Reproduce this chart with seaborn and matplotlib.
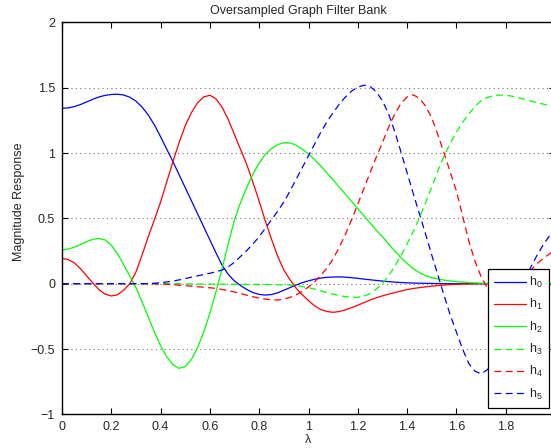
import numpy as np
import pandas as pd
import matplotlib
matplotlib.use("Agg")
import matplotlib.pyplot as plt
import seaborn as sns

# ---- data ----
lam = [0.000, 0.025, 0.050, 0.075, 0.100, 0.125, 0.150, 0.175,
       0.200, 0.225, 0.250, 0.275, 0.300, 0.325, 0.350, 0.375,
       0.400, 0.425, 0.450, 0.475, 0.500, 0.525, 0.550, 0.575,
       0.600, 0.625, 0.650, 0.675, 0.700, 0.725, 0.750, 0.775,
       0.800, 0.825, 0.850, 0.875, 0.900, 0.925, 0.950, 0.975,
       1.000, 1.025, 1.050, 1.075, 1.100, 1.125, 1.150, 1.175,
       1.200, 1.225, 1.250, 1.275, 1.300, 1.325, 1.350, 1.375,
       1.400, 1.425, 1.450, 1.475, 1.500, 1.525, 1.550, 1.575,
       1.600, 1.625, 1.650, 1.675, 1.700, 1.725, 1.750, 1.775,
       1.800, 1.825, 1.850, 1.875, 1.900, 1.925, 1.950, 1.975,
       2.000]

h0 = [1.343, 1.346, 1.356, 1.372, 1.392, 1.412, 1.430, 1.442,
      1.449, 1.451, 1.445, 1.428, 1.398, 1.352, 1.292, 1.215,
      1.125, 1.030, 0.935, 0.835, 0.735, 0.635, 0.535, 0.435,
      0.335, 0.235, 0.140, 0.070, 0.020, -0.015, -0.045, -0.068,
      -0.082, -0.087, -0.083, -0.070, -0.050, -0.030, -0.010, 0.008,
      0.022, 0.034, 0.043, 0.049, 0.051, 0.052, 0.050, 0.046,
      0.041, 0.035, 0.030, 0.025, 0.020, 0.016, 0.012, 0.009,
      0.007, 0.005, 0.004, 0.003, 0.002, 0.001, 0.0, 0.0,
      0.0, 0.0, 0.0, 0.0, 0.0, 0.0, 0.0, 0.0,
      0.0, 0.0, 0.0, 0.0, 0.0, 0.0, 0.0, 0.0,
      0.0]

h1 = [0.194, 0.185, 0.160, 0.115, 0.060, 0.005, -0.045, -0.080,
      -0.094, -0.085, -0.050, 0.000, 0.090, 0.220, 0.360, 0.490,
      0.625, 0.780, 0.935, 1.080, 1.210, 1.310, 1.385, 1.430,
      1.443, 1.415, 1.350, 1.255, 1.140, 1.025, 0.910, 0.775,
      0.630, 0.480, 0.340, 0.210, 0.105, 0.030, -0.035, -0.085,
      -0.130, -0.170, -0.198, -0.213, -0.219, -0.213, -0.200, -0.183,
      -0.165, -0.145, -0.125, -0.108, -0.093, -0.080, -0.068, -0.056,
      -0.045, -0.037, -0.030, -0.024, -0.019, -0.014, -0.010, -0.007,
      -0.005, -0.003, -0.002, -0.001, 0.0, 0.0, 0.0, 0.0,
      0.0, 0.0, 0.0, 0.0, 0.0, 0.0, 0.0, 0.0,
      0.0]

h2 = [0.258, 0.265, 0.280, 0.300, 0.322, 0.340, 0.347, 0.335,
      0.295, 0.230, 0.145, 0.060, -0.030, -0.140, -0.255, -0.370,
      -0.475, -0.560, -0.620, -0.648, -0.635, -0.580, -0.490, -0.370,
      -0.225, -0.060, 0.120, 0.310, 0.490, 0.625, 0.740, 0.840,
      0.925, 0.990, 1.035, 1.065, 1.080, 1.078, 1.060, 1.030,
      0.995, 0.950, 0.900, 0.848, 0.795, 0.740, 0.685, 0.630,
      0.575, 0.520, 0.465, 0.410, 0.360, 0.305, 0.250, 0.200,
      0.155, 0.115, 0.085, 0.062, 0.047, 0.036, 0.028, 0.021,
      0.016, 0.012, 0.009, 0.006, 0.004, 0.003, 0.002, 0.001,
      0.0, 0.0, 0.0, 0.0, 0.0, 0.0, 0.0, 0.0,
      0.0]

h3 = [0.0, 0.0, 0.0, 0.0, 0.0, 0.0, 0.0, 0.0,
      0.0, 0.0, 0.0, 0.0, 0.0, 0.0, 0.0, 0.0,
      0.0, 0.0, 0.0, 0.0, -0.002, -0.002, -0.003, -0.003,
      -0.004, -0.004, -0.004, -0.004, -0.005, -0.005, -0.005, -0.005,
      -0.006, -0.006, -0.007, -0.007, -0.008, -0.010, -0.015, -0.022,
      -0.030, -0.042, -0.055, -0.068, -0.080, -0.091, -0.099, -0.104,
      -0.104, -0.095, -0.075, -0.042, 0.000, 0.060, 0.135, 0.215,
      0.305, 0.400, 0.505, 0.620, 0.740, 0.865, 0.980, 1.075,
      1.160, 1.235, 1.300, 1.355, 1.400, 1.425, 1.440, 1.445,
      1.443, 1.436, 1.425, 1.412, 1.400, 1.388, 1.376, 1.365,
      1.355]

h4 = [0.0, 0.0, 0.0, 0.0, 0.0, 0.0, 0.0, 0.0,
      0.0, 0.0, 0.0, 0.0, 0.0, 0.0, 0.0, -0.002,
      -0.003, -0.005, -0.008, -0.011, -0.015, -0.019, -0.023, -0.027,
      -0.031, -0.036, -0.044, -0.053, -0.064, -0.076, -0.088, -0.100,
      -0.110, -0.118, -0.123, -0.125, -0.118, -0.105, -0.085, -0.058,
      -0.025, 0.015, 0.065, 0.120, 0.190, 0.280, 0.380, 0.490,
      0.610, 0.730, 0.850, 0.970, 1.080, 1.200, 1.300, 1.380,
      1.430, 1.446, 1.420, 1.360, 1.270, 1.140, 1.000, 0.855,
      0.710, 0.520, 0.330, 0.175, 0.055, -0.030, -0.050, -0.045,
      -0.030, -0.005, 0.025, 0.060, 0.100, 0.150, 0.190, 0.225,
      0.255]

h5 = [0.0, 0.0, 0.0, 0.0, 0.0, 0.0, 0.0, 0.0,
      0.0, 0.0, 0.0, 0.0, 0.0, 0.0, 0.0, 0.004,
      0.008, 0.013, 0.020, 0.029, 0.039, 0.050, 0.060, 0.070,
      0.080, 0.091, 0.105, 0.130, 0.165, 0.210, 0.255, 0.305,
      0.360, 0.425, 0.490, 0.555, 0.625, 0.710, 0.800, 0.890,
      0.980, 1.070, 1.160, 1.240, 1.310, 1.375, 1.430, 1.475,
      1.505, 1.520, 1.510, 1.470, 1.400, 1.300, 1.165, 1.010,
      0.850, 0.690, 0.535, 0.380, 0.220, 0.065, -0.090, -0.240,
      -0.370, -0.500, -0.610, -0.670, -0.690, -0.660, -0.600, -0.500,
      -0.390, -0.260, -0.120, 0.000, 0.120, 0.210, 0.290, 0.360,
      0.430]

labels = [r"h$_0$", r"h$_1$", r"h$_2$", r"h$_3$", r"h$_4$", r"h$_5$"]
series = [h0, h1, h2, h3, h4, h5]
colors = ["#0000ff", "#ff0000", "#00ff00", "#00ff00", "#ff0000", "#0000ff"]
dashed = [False, False, False, True, True, True]

xticks = [0, 0.2, 0.4, 0.6, 0.8, 1.0, 1.2, 1.4, 1.6, 1.8]
xticklabels = ["0", "0.2", "0.4", "0.6", "0.8", "1", "1.2", "1.4", "1.6", "1.8"]
yticks = [-1, -0.5, 0, 0.5, 1, 1.5, 2]
yticklabels = ["\u22121", "\u22120.5", "0", "0.5", "1", "1.5", "2"]

# ---- style ----
sns.set_theme(style="white")
plt.rcParams["font.family"] = ["Liberation Sans", "DejaVu Sans"]
plt.rcParams["mathtext.fontset"] = "custom"
plt.rcParams["mathtext.rm"] = "Liberation Sans"
plt.rcParams["mathtext.it"] = "Liberation Sans"
plt.rcParams["mathtext.default"] = "regular"
FS = 9

fig = plt.figure(figsize=(5.51, 4.48), dpi=100)
W, H = 551.0, 448.0
ax = fig.add_axes([62 / W, 33.7 / H, 493 / W, 391.8 / H])

for lab, h, c, d in zip(labels, series, colors, dashed):
    sns.lineplot(x=lam, y=h, color=c, ax=ax, label=lab, linewidth=0.9,
                 estimator=None, sort=False)
    if d:
        ax.lines[-1].set_dashes([5.5, 3.5])

ax.set_xlim(0, 2)
ax.set_ylim(-1, 2)
ax.set_xticks(xticks)
ax.set_xticklabels(xticklabels, fontsize=FS)
ax.set_yticks(yticks)
ax.set_yticklabels(yticklabels, fontsize=FS)
ax.tick_params(direction="in", length=4, width=0.8, color="black",
               top=True, right=True, bottom=True, left=True, pad=5)
for s in ax.spines.values():
    s.set_visible(True)
    s.set_color("black")
    s.set_linewidth(1.0)

ax.yaxis.grid(True, linestyle=(0, (1, 3)), color="0.45", linewidth=0.8)
ax.xaxis.grid(False)
ax.set_axisbelow(True)

ax.set_title("Oversampled Graph Filter Bank", fontsize=FS, pad=6,
             x=(298 - 62) / 493)
ax.set_xlabel("\u03bb", fontsize=FS)
ax.xaxis.set_label_coords(0.5, (414.3 - 434) / 391.8)
ax.set_ylabel("Magnitude Response", fontsize=FS)
ax.yaxis.set_label_coords((25 - 62) / 493, (414.3 - 202) / 391.8)

leg = ax.legend(loc="lower right", bbox_to_anchor=(549 / W, 40 / H),
                bbox_transform=fig.transFigure, borderaxespad=0,
                fontsize=FS, frameon=True, fancybox=False, framealpha=1,
                edgecolor="black", handlelength=2.55, handletextpad=0.25,
                labelspacing=0.58, borderpad=0.5)
leg.get_frame().set_linewidth(0.9)

fig.savefig("out.png", dpi=100)
